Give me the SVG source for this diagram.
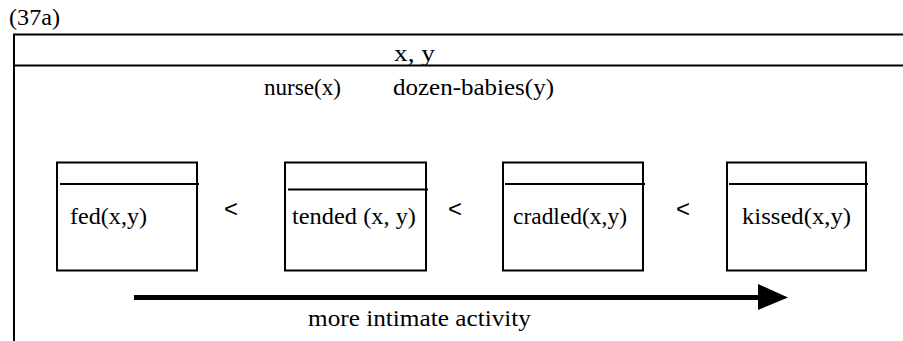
<svg xmlns="http://www.w3.org/2000/svg" width="903" height="341" viewBox="0 0 903 341">
<style>
  .ln { stroke: #000; stroke-width: 2; fill: none; }
  .box { stroke: #000; stroke-width: 2; fill: #fff; }
  text { fill: #000; }
  .t { font-family: "Liberation Serif", "Times New Roman", serif; font-size: 22.5px; }
  .lt { font-family: "Liberation Sans", Arial, sans-serif; font-size: 24px; }
</style>
<rect width="903" height="341" fill="#fff"/>
<text class="t" x="9" y="25" textLength="51" lengthAdjust="spacingAndGlyphs">(37a)</text>
<g id="frame">
  <line class="ln" x1="14" y1="34.5" x2="14" y2="341"/>
  <line class="ln" x1="13" y1="34.5" x2="903" y2="34.5"/>
  <line class="ln" x1="13" y1="65.5" x2="903" y2="65.5"/>
  <text class="t" x="394" y="61" textLength="41" lengthAdjust="spacingAndGlyphs">x, y</text>
  <text class="t" x="264" y="95" textLength="77" lengthAdjust="spacingAndGlyphs">nurse(x)</text>
  <text class="t" x="393" y="95" textLength="161" lengthAdjust="spacingAndGlyphs">dozen-babies(y)</text>
</g>
<g id="fed">
  <rect class="box" x="57" y="162.5" width="140" height="108"/>
  <line class="ln" x1="60" y1="184" x2="199" y2="184"/>
  <text class="t" x="70" y="224" textLength="77" lengthAdjust="spacingAndGlyphs">fed(x,y)</text>
</g>
<g id="tended">
  <rect class="box" x="285" y="162.5" width="141" height="108"/>
  <line class="ln" x1="288" y1="189.5" x2="428" y2="189.5"/>
  <text class="t" x="292" y="224" textLength="124" lengthAdjust="spacingAndGlyphs">tended (x, y)</text>
</g>
<g id="cradled">
  <rect class="box" x="503" y="162.5" width="140" height="108"/>
  <line class="ln" x1="505" y1="184" x2="645" y2="184"/>
  <text class="t" x="513" y="224" textLength="114" lengthAdjust="spacingAndGlyphs">cradled(x,y)</text>
</g>
<g id="kissed">
  <rect class="box" x="727" y="162.5" width="139" height="108"/>
  <line class="ln" x1="729" y1="184" x2="868" y2="184"/>
  <text class="t" x="742" y="224" textLength="109" lengthAdjust="spacingAndGlyphs">kissed(x,y)</text>
</g>
<g id="connectors">
  <text class="lt" x="224" y="217">&lt;</text>
  <text class="lt" x="448" y="217">&lt;</text>
  <text class="lt" x="676" y="217">&lt;</text>
  <line x1="134" y1="297.5" x2="760" y2="297.5" stroke="#000" stroke-width="5"/>
  <polygon points="758,284 788,297.5 758,310" fill="#000"/>
  <text class="t" x="308" y="326" textLength="223" lengthAdjust="spacingAndGlyphs">more intimate activity</text>
</g>
</svg>
